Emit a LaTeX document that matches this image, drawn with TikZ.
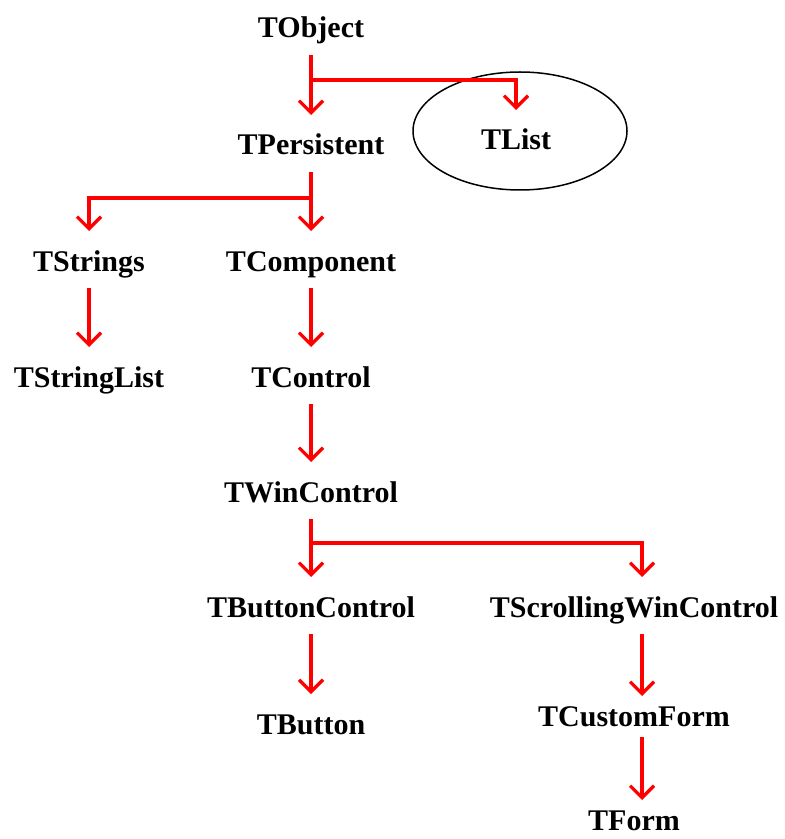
\documentclass[tikz,border=0pt]{standalone}
\usepackage{fontspec}
\setmainfont{Liberation Serif}
\usetikzlibrary{arrows.meta}

\tikzset{
    cls/.style={font=\fontsize{15}{18}\selectfont\bfseries, anchor=base,
        inner ysep=0pt, outer sep=0pt, text height=20pt, text depth=8.5pt},
    inh/.style={draw=red, line width=1.6pt,
        -{Straight Barb[length=6pt,width=12pt]}},
}

\begin{document}
\begin{tikzpicture}[x=0.5pt,y=0.5pt]
    \useasboundingbox (0,0) rectangle (784,-839);

    % classes, placed at their baselines
    \node[cls]  (tobject)     at (311,-38)  {TObject};
    \node[cls]  (tpersistent) at (311,-155) {TPersistent};
    \node[cls]  (tlist)       at (516,-150) {TList};
    \node[cls]  (tstrings)    at (89,-271)  {TStrings};
    \node[cls]  (tcomponent)  at (311,-271) {TComponent};
    \node[cls]  (tstringlist) at (89,-387)  {TStringList};
    \node[cls]  (tcontrol)    at (311,-387) {TControl};
    \node[cls]  (twincontrol) at (311,-502) {TWinControl};
    \node[cls]  (tbtnctrl)    at (311,-617) {TButtonControl};
    \node[cls]  (tscroll)     at (634,-617) {TScrollingWinControl};
    \node[cls]  (tbutton)     at (311,-734) {TButton};
    \node[cls, text height=15pt, text depth=5.5pt]
                (tcustomform) at (634,-726) {TCustomForm};
    \node[cls, text height=15pt, text depth=0pt]
                (tform)       at (634,-830) {TForm};

    \draw[line width=0.75pt]  (520,-131) ellipse (53.5pt and 29.5pt);

    % inheritance
    \draw[inh]  (tobject.south) -- (tpersistent.north);
    \draw[inh]  (tobject.south) ++(0,-25) -| (tlist.north);
    \draw[inh]  (tpersistent.south) -- (tcomponent.north);
    \draw[inh]  (tpersistent.south) ++(0,-26) -| (tstrings.north);
    \draw[inh]  (tstrings.south) -- (tstringlist.north);
    \draw[inh]  (tcomponent.south) -- (tcontrol.north);
    \draw[inh]  (tcontrol.south) -- (twincontrol.north);
    \draw[inh]  (twincontrol.south) -- (tbtnctrl.north);
    \draw[inh]  (twincontrol.south) ++(0,-24) -| ([xshift=4pt]tscroll.north);
    \draw[inh]  (tbtnctrl.south) -- (tbutton.north);
    \draw[inh]  ([xshift=4pt]tscroll.south) -- ([xshift=4pt]tcustomform.north);
    \draw[inh]  ([xshift=4pt]tcustomform.south) -- ([xshift=4pt]tform.north);
\end{tikzpicture}
\end{document}
